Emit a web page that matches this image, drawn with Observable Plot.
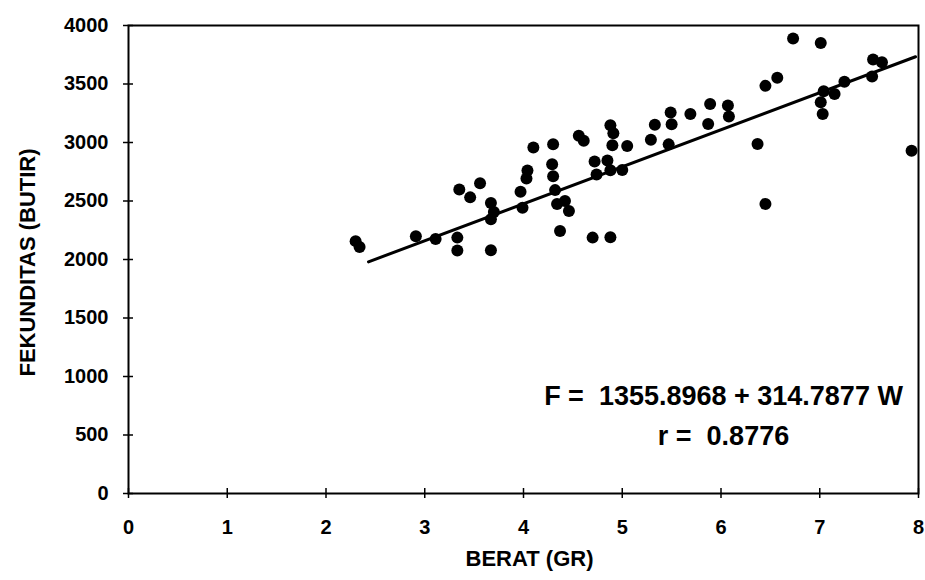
<!DOCTYPE html>
<html><head><meta charset="utf-8">
<script src="https://cdn.jsdelivr.net/npm/d3@7"></script>
<script src="https://cdn.jsdelivr.net/npm/@observablehq/plot@0.6"></script>
<style>body{margin:0;background:#fff}</style>
</head><body><div id="chart"></div>
<script>
const berat = [2.30,2.34,2.91,3.11,3.33,3.33,3.35,3.46,3.56,3.67,3.70,3.67,3.67,3.97,3.99,4.04,4.03,4.10,4.30,4.29,4.30,4.32,4.34,4.42,4.46,4.37,4.56,4.61,4.72,4.74,4.70,4.88,4.88,4.91,4.90,5.05,4.85,5.00,4.88,5.29,5.33,5.49,5.50,5.47,5.69,5.89,6.07,6.08,5.87,6.45,6.57,6.37,6.45,6.73,7.01,7.04,7.15,7.25,7.01,7.03,7.54,7.63,7.53,7.93];
const fekunditas = [2157,2107,2199,2176,2187,2076,2598,2531,2652,2482,2406,2345,2080,2580,2443,2760,2692,2958,2986,2815,2712,2593,2474,2500,2415,2243,3058,3015,2838,2727,2187,2190,3147,3079,2977,2970,2847,2764,2763,3024,3152,3257,3155,2984,3243,3330,3316,3222,3159,3484,3553,2987,2475,3888,3850,3439,3415,3519,3345,3243,3710,3686,3565,2929];
const fitBerat = [2.43, 7.97];
const fitFekunditas = [1980, 3733];
const xTicks = [0,1,2,3,4,5,6,7,8];
const yTicks = [0,500,1000,1500,2000,2500,3000,3500,4000];
const xLabel = "BERAT (GR)";
const yLabel = "FEKUNDITAS (BUTIR)";
const equation = "F =  1355.8968 + 314.7877 W";
const corr = "r =  0.8776";

const points = berat.map((b, i) => ({berat: b, fekunditas: fekunditas[i]}));

const chart = Plot.plot({
  width: 925, height: 580,
  marginLeft: 128, marginRight: 7, marginTop: 25, marginBottom: 87,
  style: {fontFamily: "'Liberation Sans', Arial, sans-serif", fontWeight: "bold", background: "#fff", color: "#000"},
  x: {domain: [0, 8]},
  y: {domain: [0, 4000]},
  marks: [
    Plot.frame({stroke: "#000", strokeWidth: 2}),
    Plot.axisY(yTicks, {tickSize: 5, tickPadding: 15, fontSize: 20, strokeWidth: 1.5, label: null, tickFormat: d3.format("d")}),
    Plot.axisY(yTicks, {tickSize: 5, dx: 5, text: null, label: null, strokeWidth: 1.5}),
    Plot.axisX(xTicks, {tickSize: 5, tickPadding: 21, fontSize: 20, strokeWidth: 1.5, label: null, tickFormat: d3.format("d")}),
    Plot.axisX(xTicks, {tickSize: 5, dy: -5, text: null, label: null, strokeWidth: 1.5}),
    Plot.text([yLabel], {frameAnchor: "left", textAnchor: "middle", rotate: -90, dx: -101, dy: 3, fontSize: 22}),
    Plot.text([xLabel], {frameAnchor: "bottom", dx: 6, dy: 72, fontSize: 22}),
    Plot.line(fitBerat, {x: fitBerat, y: fitFekunditas, stroke: "#000", strokeWidth: 3}),
    Plot.dot(points, {x: "berat", y: "fekunditas", r: 6, fill: "#000", stroke: "none"}),
    Plot.text([equation + "\n" + corr], {frameAnchor: "bottom", dx: 200, dy: -49, fontSize: 27, lineHeight: 1.45})
  ]
});
document.getElementById("chart").appendChild(chart);
</script>
</body></html>
